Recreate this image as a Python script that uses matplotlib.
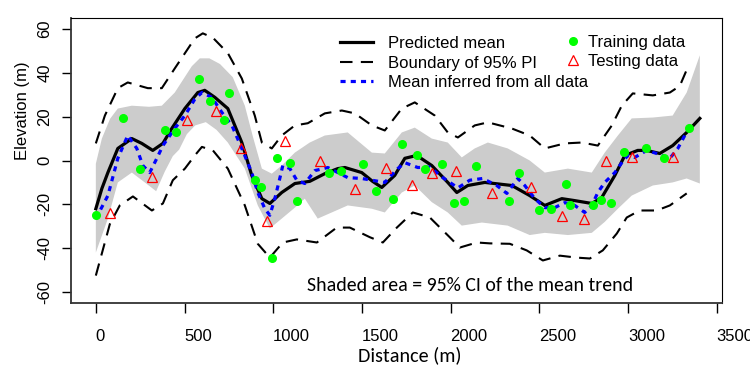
import numpy as np
import matplotlib
matplotlib.use("Agg")
import matplotlib.pyplot as plt
from matplotlib.lines import Line2D

# predicted mean (black solid)
mean_d = [0, 34, 68, 124, 203, 259, 321, 378, 428, 502, 575, 614, 671, 744, 823, 879,
          936, 981, 1048, 1122, 1206, 1291, 1364, 1404, 1499, 1560, 1612, 1685, 1742,
          1809, 1894, 1984, 2035, 2097, 2193, 2345, 2446, 2531, 2627, 2700, 2796, 2852,
          2926, 2982, 3055, 3106, 3179, 3252, 3331, 3405]
mean_y = [-22, -12.8, -5.5, 5.5, 10, 7.8, 4.6, 7.8, 14.6, 23.7, 31, 32, 28.8, 23.7, 8.2,
          -6.8, -17.4, -19.6, -14.6, -10.5, -9.5, -6, -3.7, -3.2, -5.5, -9.5, -12.3, -6.8,
          1, 2.3, -2.3, -10, -14.6, -11.4, -10, -11.4, -16, -20.5, -17.4, -18.3, -19.6,
          -16.9, -6.8, 2.3, 4.6, 4.6, 3.2, 6.8, 12.8, 19.2]

# 95% CI of mean trend (shaded)
ci_up_d = [0, 34, 80, 124, 203, 300, 372, 445, 541, 586, 640, 700, 772, 840, 885, 936,
           992, 1048, 1122, 1206, 1291, 1420, 1556, 1629, 1725, 1798, 1894, 1984, 2063,
           2136, 2210, 2322, 2446, 2531, 2661, 2796, 2869, 2943, 3021, 3140, 3252, 3331,
           3405]
ci_up_y = [-1.5, 10, 19, 23.7, 25, 24.5, 25, 31, 43, 46.6, 46.6, 44, 38, 25, 11, -3.7,
           -6, -2.3, 3.6, 8.2, 11.4, 12.8, 3.6, 3.2, 12.8, 15, 10, 8.2, 1.4, 5.5, 8.2, 5.5,
           0, -5.5, -3.7, -5.5, 3.6, 11.4, 19.2, 19.6, 20.5, 31, 48]
ci_lo_d = [0, 68, 124, 203, 276, 340, 389, 434, 470, 513, 560, 620, 680, 744, 840, 913,
           981, 1048, 1122, 1178, 1251, 1330, 1420, 1556, 1629, 1725, 1798, 1894, 1984,
           2063, 2176, 2322, 2446, 2531, 2661, 2796, 2869, 2943, 3021, 3140, 3252, 3331,
           3405]
ci_lo_y = [-42, -26.5, -10, -5.5, -10, -14, -5, 2, 5, 12, 16, 17.5, 14, 8.2, -3.7, -20.5,
           -31, -26.5, -21.5, -17.4, -26.5, -23.7, -20.5, -22, -23.7, -14.6, -11.4, -19,
           -23.7, -29.7, -28.3, -29.7, -34, -33, -34, -33, -28, -22, -16, -11.4, -10, -8.2,
           -10.5]

# boundary of 95% PI (dashed)
pi_up_d = [0, 51, 124, 180, 293, 372, 445, 558, 603, 660, 744, 823, 896, 936, 992, 1048,
           1122, 1195, 1291, 1387, 1460, 1556, 1629, 1725, 1798, 1911, 1984, 2041, 2136,
           2210, 2345, 2446, 2531, 2644, 2740, 2830, 2909, 2965, 3027, 3140, 3236, 3292,
           3345]
pi_up_y = [7.8, 20.5, 33, 35.6, 33, 33, 42, 55.7, 58, 56, 49, 37.4, 20.5, 8.2, 5.5, 11.4,
           16, 17, 21.5, 22.8, 21.5, 16, 13.7, 23.7, 26.5, 20.5, 12.8, 10.5, 16, 17.4, 14.6,
           11.4, 5.5, 7.8, 8.2, 6.8, 16, 25, 30.6, 29.7, 31, 34, 44]
pi_lo_d = [0, 79, 135, 209, 316, 378, 434, 502, 558, 598, 660, 744, 840, 913, 981, 1054,
           1133, 1246, 1358, 1432, 1545, 1618, 1697, 1787, 1883, 1995, 2052, 2148, 2221,
           2334, 2429, 2520, 2616, 2711, 2785, 2858, 2937, 2993, 3066, 3162, 3236, 3331]
pi_lo_y = [-52.5, -29, -20.5, -16.4, -22.8, -19.6, -9, -3.7, 2.3, 6.2, 4.6, -3.7, -20.5,
           -38, -44.3, -37.4, -36, -37.4, -30.6, -30.6, -35, -37.4, -30.6, -23.7, -26, -35,
           -39.7, -37.4, -37.8, -38, -41, -45.6, -43.4, -44.3, -44.7, -41, -33.3, -26,
           -22.8, -22.8, -20.5, -15]

# mean inferred from all data (blue dotted)
all_d = [0, 68, 124, 180, 231, 265, 304, 344, 378, 445, 502, 558, 598, 654, 710, 767,
         823, 879, 913, 953, 981, 1009, 1037, 1054, 1094, 1133, 1178, 1235, 1308, 1364,
         1420, 1499, 1556, 1629, 1702, 1742, 1815, 1883, 1956, 2041, 2108, 2181, 2260,
         2317, 2379, 2418, 2475, 2531, 2587, 2644, 2700, 2756, 2796, 2830, 2869, 2926,
         2965, 2999, 3038, 3106, 3162, 3236, 3281, 3320]
all_y = [-26.5, -16, 1, 11.4, 5.5, -2.3, -5.5, 1, 6.8, 14.6, 20.5, 28, 31, 28.8, 22, 16,
         5.5, -5.5, -14.6, -22, -25, -17.4, -8.2, -2.3, -3.7, -9, -10.5, -4.6, -3.2, -5.5,
         -7.8, -8.2, -9, -10, -3.7, -1, -3.2, -3, -7.8, -12.5, -9, -8.2, -11.4, -15, -8.2,
         -11.4, -17.4, -21.5, -21.5, -19.2, -20.5, -23.7, -20.5, -14.6, -10, -5.5, -1,
         2.3, 1.4, 4.6, 3.2, 1, 5.5, 11.4]

# observations
train_d = [0, 152, 248, 389, 451, 581, 643, 722, 750, 896, 930, 992, 1020, 1094, 1133,
           1313, 1381, 1505, 1578, 1674, 1725, 1809, 1855, 1950, 2018, 2074, 2142, 2328,
           2384, 2497, 2565, 2649, 2672, 2802, 2847, 2903, 2976, 3100, 3202, 3343]
train_y = [-24.7, 19.2, -3.7, 13.7, 13.2, 37.4, 27, 18.3, 31, -8.7, -12.3, -44.7, 1, -1,
           -18.7, -5.5, -4.6, -1.4, -13.7, -17.4, 7.3, 2.7, -3.7, -1.4, -19.6, -18.7, -2.7,
           -18.3, -5.9, -22.4, -21.9, -10.5, -20.1, -20.1, -17.8, -19.6, 3.7, 5.5, 1, 14.6]
test_d = [79, 316, 513, 676, 817, 964, 1065, 1263, 1460, 1635, 1781, 1894, 2029, 2232,
          2452, 2627, 2751, 2875, 3021, 3252]
test_y = [-24, -7.3, 18.3, 22.4, 5.9, -27.4, 9.1, 0, -12.8, -3.2, -11.4, -5.9, -5, -14.6,
          -11.9, -25.1, -26.5, 0, 1.8, 1.4]

x_ticks = [0, 500, 1000, 1500, 2000, 2500, 3000, 3500]
y_ticks = [-60, -40, -20, 0, 20, 40, 60]

plt.rcParams['font.family'] = ['Liberation Sans', 'DejaVu Sans']
plt.rcParams['font.size'] = 12

fig = plt.figure(figsize=(7.5, 3.72), dpi=100)
ax = fig.add_axes([71/750, 1-303/372, 651/750, 285/372])

# shaded band: polygon from upper edge then lower edge reversed
band_x = ci_up_d + ci_lo_d[::-1]
band_y = ci_up_y + ci_lo_y[::-1]
ax.fill(band_x, band_y, color='#cccccc', lw=0, zorder=1)

ax.plot(pi_up_d, pi_up_y, color='black', lw=1.5, dashes=(6, 4), zorder=2)
ax.plot(pi_lo_d, pi_lo_y, color='black', lw=1.5, dashes=(6, 4), zorder=2)
ax.plot(mean_d, mean_y, color='black', lw=2.3, zorder=3)
ax.plot(all_d, all_y, color='blue', lw=2.3, dashes=(1.6, 1.6), zorder=4)
ax.plot(train_d, train_y, 'o', color='#00ff00', ms=5.5, mec='#00ff00', zorder=5)
ax.plot(test_d, test_y, '^', mfc='none', mec='red', ms=7, mew=0.9, zorder=5)

ax.set_xlim(-140, 3530)
ax.set_ylim(-65, 65)
ax.set_xticks(x_ticks)
ax.set_yticks(y_ticks)
ax.set_xticklabels([str(v) for v in x_ticks], ha='left')
ax.set_yticklabels([str(v) for v in y_ticks], rotation=90, va='center')
ax.tick_params(axis='x', length=7, width=1, pad=12, labelsize=12)
ax.tick_params(axis='y', length=6.5, width=1, pad=7, labelsize=12)
for s in ['left', 'bottom']:
    ax.spines[s].set_linewidth(1.3)
    ax.spines[s].set_color('#333333')
for s in ['top', 'right']:
    ax.spines[s].set_linewidth(0.8)

ax.set_xlabel('Distance (m)', family=['Carlito', 'Lato', 'DejaVu Sans'], fontsize=14.5)
ax.xaxis.set_label_coords(0.52, -0.152)
ax.set_ylabel('Elevation (m)', fontsize=12)
ax.yaxis.set_label_coords(-0.063, 0.675)

ax.text(0.613, 0.063, 'Shaded area = 95% CI of the mean trend', transform=ax.transAxes,
        ha='center', va='center', family=['Carlito', 'Lato', 'DejaVu Sans'], fontsize=14.3)

h1 = [Line2D([], [], color='black', lw=2.3),
      Line2D([], [], color='black', lw=1.5, dashes=(6, 4)),
      Line2D([], [], color='blue', lw=2.3, dashes=(1.6, 1.6))]
l1 = ['Predicted mean', 'Boundary of 95% PI', 'Mean inferred from all data']
leg1 = ax.legend(h1, l1, loc='upper left', bbox_to_anchor=(0.413, 0.937), frameon=False,
                 borderpad=0, borderaxespad=0, handlelength=2.0, handletextpad=0.9,
                 labelspacing=0.28, fontsize=12)
ax.add_artist(leg1)
h2 = [Line2D([], [], ls='none', marker='o', color='#00ff00', ms=5.5),
      Line2D([], [], ls='none', marker='^', mfc='none', mec='red', ms=7, mew=0.9)]
l2 = ['Training data', 'Testing data']
ax.legend(h2, l2, loc='upper left', bbox_to_anchor=(0.759, 0.942), frameon=False,
          borderpad=0, borderaxespad=0, handlelength=1.0, handletextpad=0.4,
          labelspacing=0.28, fontsize=12)

fig.savefig('out.png', dpi=100)
